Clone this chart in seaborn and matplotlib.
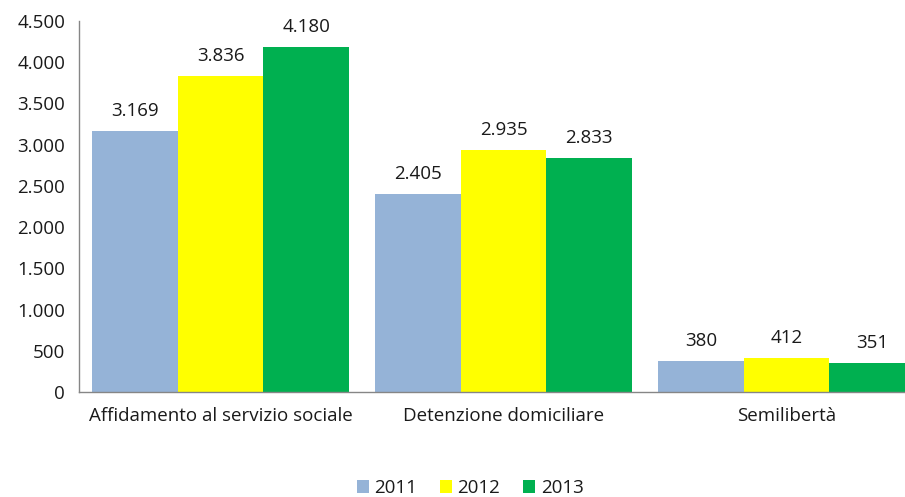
import matplotlib
matplotlib.use("Agg")
import matplotlib.pyplot as plt
import matplotlib.ticker as mticker
import seaborn as sns
import pandas as pd

categories = ["Affidamento al servizio sociale", "Detenzione domiciliare", "Semilibertà"]
years = ["2011", "2012", "2013"]
values_2011 = [3169, 2405, 380]
values_2012 = [3836, 2935, 412]
values_2013 = [4180, 2833, 351]
y_ticks = [0, 500, 1000, 1500, 2000, 2500, 3000, 3500, 4000, 4500]

palette = {"2011": "#95B3D7", "2012": "#FFFF00", "2013": "#00B050"}

rows = []
for year, vals in zip(years, [values_2011, values_2012, values_2013]):
    for cat, v in zip(categories, vals):
        rows.append({"categoria": cat, "anno": year, "valore": v})
df = pd.DataFrame(rows)

sns.set_style("white")
plt.rcParams["font.family"] = ["Open Sans", "DejaVu Sans"]

def it_fmt(v, pos=None):
    return f"{int(round(v)):,}".replace(",", ".")

text_color = "#1a1a1a"
axis_color = "#868686"
fs = 13.5

fig = plt.figure(figsize=(9.05, 4.97), dpi=100)
ax = fig.add_axes([79 / 905, 105 / 497, (928 - 79) / 905, 371 / 497])

sns.barplot(data=df, x="categoria", y="valore", hue="anno", order=categories,
            hue_order=years, palette=palette, width=0.908, saturation=1,
            linewidth=0, ax=ax)

ax.set_xlim(-0.5, 2.5)
ax.set_ylim(0, 4500)
ax.set_yticks(y_ticks)
ax.yaxis.set_major_formatter(mticker.FuncFormatter(it_fmt))
ax.set_xlabel("")
ax.set_ylabel("")

for cont in ax.containers:
    ax.bar_label(cont, labels=[it_fmt(b.get_height()) for b in cont],
                 padding=8, fontsize=fs, color=text_color)

# Category labels centred, ticks on the category boundaries
ax.set_xticks([0, 1, 2])
ax.set_xticklabels(categories, fontsize=fs, color=text_color)
ax.tick_params(axis="x", length=0, pad=11)
ax.set_xticks([-0.5, 0.5, 1.5, 2.5], minor=True)
ax.tick_params(axis="x", which="minor", length=6, width=1, color=axis_color, direction="out")
ax.tick_params(axis="y", length=5, width=1, color=axis_color, direction="out",
               labelsize=fs, labelcolor=text_color, pad=5)

for side in ["top", "right"]:
    ax.spines[side].set_visible(False)
for side in ["left", "bottom"]:
    ax.spines[side].set_color(axis_color)
    ax.spines[side].set_linewidth(1)

leg = ax.legend(loc="center", bbox_to_anchor=(470 / 905, 9 / 497),
                bbox_transform=fig.transFigure, ncol=3, frameon=False,
                handlelength=0.65, handleheight=0.65, handletextpad=0.3,
                columnspacing=1.2, fontsize=fs)
for t in leg.get_texts():
    t.set_color(text_color)

fig.savefig("out.png", dpi=100)
